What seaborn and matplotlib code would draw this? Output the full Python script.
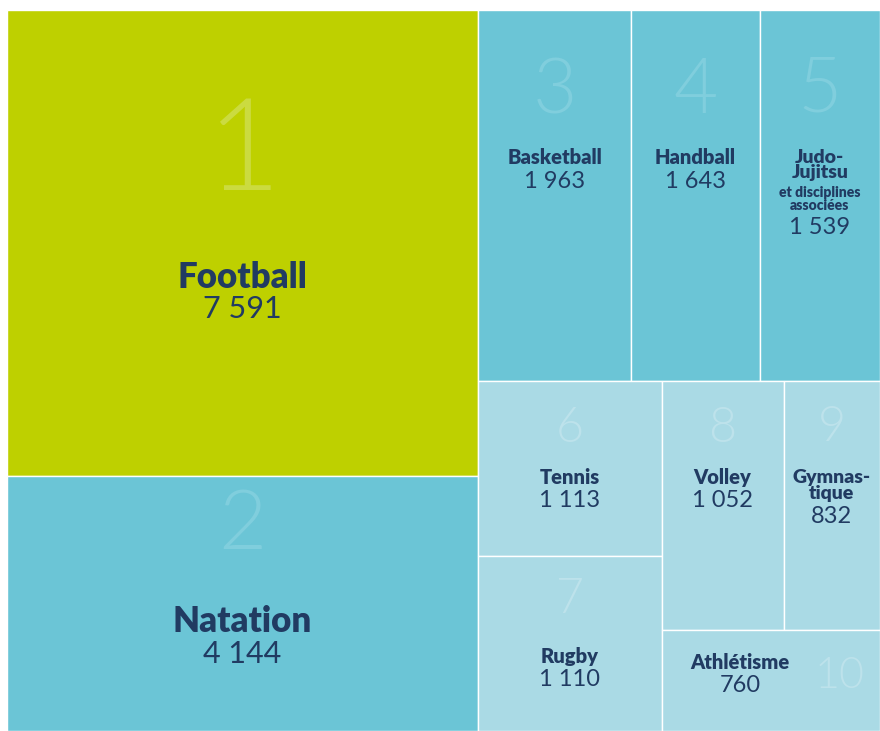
import numpy as np
import pandas as pd
import matplotlib.pyplot as plt
import seaborn as sns
from matplotlib.patches import Rectangle

## data
sports = ['Football', 'Natation', 'Basketball', 'Handball', 'Judo-Jujitsu',
          'Tennis', 'Rugby', 'Volley', 'Gymnastique', 'Athlétisme']
labels = ['Football', 'Natation', 'Basketball', 'Handball', 'Judo-\nJujitsu',
          'Tennis', 'Rugby', 'Volley', 'Gymnas-\ntique', 'Athlétisme']
values = [7591, 4144, 1963, 1643, 1539, 1113, 1110, 1052, 832, 760]
ranks = [1, 2, 3, 4, 5, 6, 7, 8, 9, 10]
subtitle_judo = 'et disciplines\nassociées'

df = pd.DataFrame({'sport': sports, 'label': labels, 'value': values, 'rank': ranks})

## treemap split tree: 'h' = side by side, 'v' = stacked
tree = ('h', [('v', [0, 1]),
              ('v', [('h', [2, 3, 4]),
                     ('h', [('v', [5, 6]),
                            ('v', [('h', [7, 8]), 9])])])])

def total(node):
    if isinstance(node, int):
        return df.value[node]
    return sum(total(c) for c in node[1])

rects = {}
def layout(node, x, y, w, h):
    if isinstance(node, int):
        rects[node] = (x, y, w, h)
        return
    direction, children = node
    s = total(node)
    pos = 0
    for c in children:
        frac = total(c) / s
        if direction == 'h':
            layout(c, x + pos * w, y, frac * w, h)
        else:
            layout(c, x, y + pos * h, w, frac * h)
        pos += frac

# plot area in pixels
layout(tree, 7, 10, 873, 721)

## colours
dark_text = '#213b62'
tile_colours = ['#bed000', '#6bc5d6', '#6bc5d6', '#6bc5d6', '#6bc5d6',
                '#aadae5', '#aadae5', '#aadae5', '#aadae5', '#aadae5']
rank_colours = ['#cbdb40', '#80cedd', '#80cedd', '#80cedd', '#80cedd',
                '#bde2eb', '#bde2eb', '#bde2eb', '#bde2eb', '#bde2eb']

# text placement (offsets in px from tile top) and sizes
style = {
    'Football':     dict(rank_y=145, label_y=267, value_y=299, rank_fs=92, label_fs=25, value_fs=22),
    'Natation':     dict(rank_y=50, label_y=145, value_y=178, rank_fs=60, label_fs=25, value_fs=22),
    'Basketball':   dict(rank_y=82, label_y=147, value_y=171, rank_fs=55, label_fs=14.5, value_fs=17),
    'Handball':     dict(rank_y=82, label_y=147, value_y=171, rank_fs=55, label_fs=14.5, value_fs=17),
    'Judo-Jujitsu': dict(rank_y=80, label_y=155, value_y=217, rank_fs=55, label_fs=14, value_fs=17),
    'Tennis':       dict(rank_y=48, label_y=97, value_y=120, rank_fs=35, label_fs=14.5, value_fs=17),
    'Rugby':        dict(rank_y=44, label_y=101, value_y=124, rank_fs=35, label_fs=14.5, value_fs=17),
    'Volley':       dict(rank_y=48, label_y=97, value_y=120, rank_fs=35, label_fs=14.5, value_fs=17),
    'Gymnastique':  dict(rank_y=47, label_y=105, value_y=136, rank_fs=35, label_fs=14, value_fs=17),
    'Athlétisme':   dict(rank_y=46, label_y=32, value_y=55, rank_fs=31, label_fs=14.5, value_fs=17,
                         label_dx=-31, rank_dx=69),
}

sns.set_style('white')
plt.rcParams['font.family'] = ['Lato', 'DejaVu Sans']

fig = plt.figure(figsize=(8.8, 7.31), dpi=100)
ax = fig.add_axes([0, 0, 1, 1])
ax.set_xlim(0, 880)
ax.set_ylim(731, 0)
ax.axis('off')

for i, row in df.iterrows():
    x, y, w, h = rects[i]
    ax.add_patch(Rectangle((x, y), w, h, facecolor=tile_colours[i],
                           edgecolor='white', linewidth=1.0))
    st = style[row.sport]
    cx = x + w / 2
    ax.text(cx + st.get('rank_dx', 0), y + st['rank_y'], str(row['rank']),
            ha='center', va='center', fontsize=st['rank_fs'], fontweight=300,
            color=rank_colours[i])
    ax.text(cx + st.get('label_dx', 0), y + st['label_y'], row.label,
            ha='center', va='center', fontsize=st['label_fs'], fontweight='heavy',
            color=dark_text, linespacing=0.9)
    if row.sport == 'Judo-Jujitsu':
        ax.text(cx, y + 189, subtitle_judo, ha='center', va='center', fontsize=10,
                fontweight='heavy', color=dark_text, linespacing=1.0)
    value_txt = f'{row.value:,}'.replace(',', ' ')
    ax.text(cx + st.get('label_dx', 0), y + st['value_y'], value_txt,
            ha='center', va='center', fontsize=st['value_fs'], fontweight='normal',
            color=dark_text)

plt.savefig('out.png', dpi=100, facecolor='white')
